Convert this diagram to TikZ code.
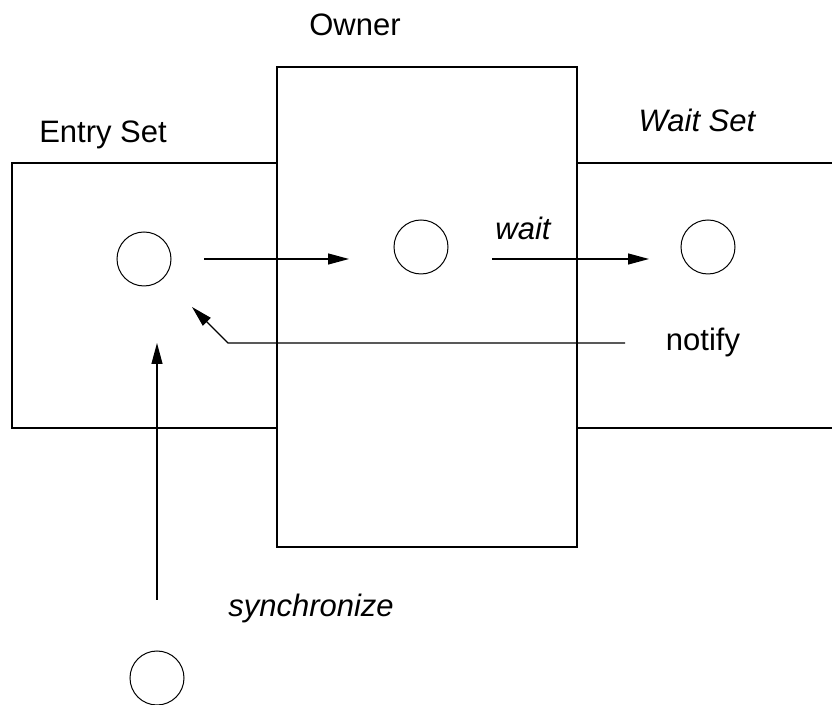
\documentclass[tikz,border=0pt]{standalone}
\usepackage{fontspec}
\setmainfont{Liberation Sans}
\usetikzlibrary{arrows.meta}

\tikzset{
  box/.style={black, line width=0.7pt},
  thread/.style={draw, circle, line width=0.5pt, minimum size=27pt, inner sep=0pt},
  flow/.style={line width=0.6pt, -{Triangle[length=10.5pt,width=5.5pt]}},
  lbl/.style={font=\fontsize{15.5}{18}\selectfont}
}

\begin{document}
\begin{tikzpicture}[x=0.5pt, y=-0.5pt]
  \useasboundingbox (0,0) rectangle (832,705);
  % the three sets
  \draw[box] (12,163) rectangle (277,428);
  \draw[box] (277,67) rectangle (577,547);
  \draw[box] (832,163) -- (577,163) -- (577,428) -- (832,428);
  \node[lbl] (owner) at (355,25) {Owner};
  \node[lbl] (entrylbl) at (103,135) {Entry Set};
  \node[lbl, font=\fontsize{15.5}{18}\selectfont\itshape] (waitlbl) at (697,120) {Wait Set};
  % threads
  \node[thread] (tentry) at (144,259) {};
  \node[thread] (towner) at (421,247) {};
  \node[thread] (twait) at (708,247) {};
  \node[thread] (tnew) at (157,678) {};
  % arrows
  \coordinate (a1) at (204,259);
  \coordinate (a1e) at (349,259);
  \coordinate (a2) at (492,259);
  \coordinate (a2e) at (649,259);
  \draw[flow] (a1) -- (a1e);
  \draw[flow] (a2) -- (a2e);
  \node[lbl, font=\fontsize{15.5}{18}\selectfont\itshape] (waitop) at (523,228) {wait};
  \coordinate (n1) at (625,343);
  \coordinate (n2) at (228,343);
  \coordinate (n3) at (192,307);
  \draw[flow] (n1) -- (n2) -- (n3);
  \node[lbl] (notify) at (703,342) {notify};
  \coordinate (s1) at (157,600);
  \coordinate (s2) at (157,343);
  \draw[flow] (s1) -- (s2);
  \node[lbl, font=\fontsize{15.5}{18}\selectfont\itshape] (sync) at (311,608) {synchronize};
\end{tikzpicture}
\end{document}
